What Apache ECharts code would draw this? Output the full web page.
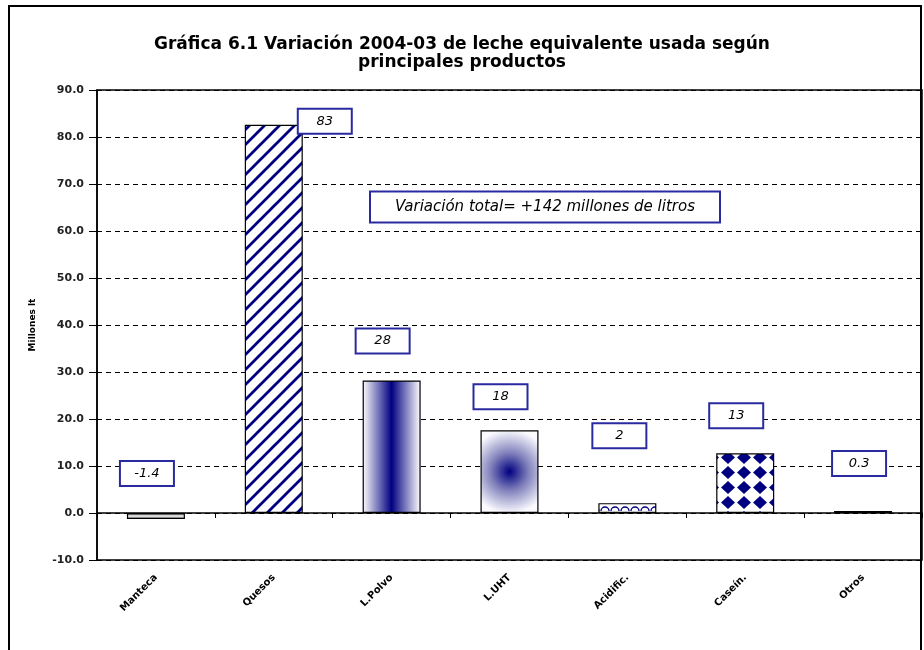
<!DOCTYPE html>
<html>
<head>
<meta charset="utf-8">
<script src="https://cdn.jsdelivr.net/npm/echarts@6/dist/echarts.min.js"></script>
<style>
  html, body { margin: 0; padding: 0; background: #fff; }
  #chart { width: 924px; height: 650px; }
</style>
</head>
<body>
<div id="chart"></div>
<script>
// data
var categories = ['Manteca', 'Quesos', 'L.Polvo', 'L.UHT', 'Acidific.', 'Caseín.', 'Otros']
var values = [-1.3, 82.6, 28.2, 17.6, 2.1, 12.7, 0.4]
var valueLabels = ['-1.4', '83', '28', '18', '2', '13', '0.3']
var yTicks = [-10, 0, 10, 20, 30, 40, 50, 60, 70, 80, 90]
var noteText = 'Variación total= +142 millones de litros'

var NAVY = '#000080'
var BOX_BLUE = '#2a2aa0'

// label boxes were moved by hand in the original, so each gets its own nudge
var labelOffsets = [[-9, -28], [51, 8], [-9, -28], [-9, -22], [-8, -56], [-9, -26], [-4, -36]]

function tile (w, h, draw) {
  var c = document.createElement('canvas')
  c.width = w
  c.height = h
  var ctx = c.getContext('2d')
  ctx.fillStyle = '#fff'
  ctx.fillRect(0, 0, w, h)
  draw(ctx)
  return { image: c, repeat: 'repeat' }
}

var stripes = tile(15, 15, function (ctx) {
  ctx.strokeStyle = NAVY
  ctx.lineWidth = 2.8
  ctx.beginPath()
  ctx.moveTo(-2, 17); ctx.lineTo(17, -2)
  ctx.moveTo(-10, 10); ctx.lineTo(10, -10)
  ctx.moveTo(5, 25); ctx.lineTo(25, 5)
  ctx.stroke()
})

var waves = tile(10, 8, function (ctx) {
  ctx.strokeStyle = NAVY
  ctx.lineWidth = 1.3
  ctx.beginPath()
  ctx.arc(5, 7, 4, Math.PI, 2 * Math.PI)
  ctx.stroke()
})

var diamonds = tile(16, 15, function (ctx) {
  ctx.fillStyle = NAVY
  ctx.beginPath()
  ctx.moveTo(8, 1); ctx.lineTo(15, 7.5); ctx.lineTo(8, 14); ctx.lineTo(1, 7.5)
  ctx.closePath()
  ctx.fill()
})

var barFills = [
  { type: 'linear', x: 0, y: 0, x2: 0, y2: 1, colorStops: [{ offset: 0, color: '#111' }, { offset: 0.5, color: '#fff' }, { offset: 1, color: '#111' }] },
  stripes,
  { type: 'linear', x: 0, y: 0, x2: 1, y2: 0, colorStops: [{ offset: 0, color: '#fff' }, { offset: 0.5, color: NAVY }, { offset: 1, color: '#fff' }] },
  { type: 'radial', x: 0.5, y: 0.5, r: 0.72, colorStops: [{ offset: 0, color: NAVY }, { offset: 0.45, color: '#8080bb' }, { offset: 1, color: '#fafaff' }] },
  waves,
  diamonds,
  '#000'
]

var chart = echarts.init(document.getElementById('chart'))
chart.setOption({
  backgroundColor: '#fff',
  animation: false,
  title: {
    text: 'Gráfica 6.1 Variación 2004-03 de leche equivalente usada según\nprincipales productos',
    left: 'center',
    top: 31,
    textStyle: {
      fontFamily: 'DejaVu Sans',
      fontSize: 17,
      fontWeight: 'bold',
      lineHeight: 18,
      color: '#000'
    }
  },
  grid: {
    left: 97,
    right: 2,
    top: 90,
    bottom: 90,
    show: true,
    borderColor: '#000',
    borderWidth: 1.5
  },
  xAxis: [{
    type: 'category',
    data: categories,
    axisLine: { show: false, onZero: false },
    axisTick: { show: false },
    axisLabel: {
      rotate: 45,
      margin: 16,
      fontFamily: 'DejaVu Sans',
      fontSize: 10,
      fontWeight: 'bold',
      color: '#000'
    },
    splitLine: { show: false }
  }, {
    // zero line with boundary ticks
    type: 'category',
    data: categories,
    position: 'bottom',
    axisLine: { show: true, onZero: true, lineStyle: { color: '#000', width: 1.5 } },
    axisTick: { show: true, length: 5, lineStyle: { color: '#000' } },
    axisLabel: { show: false },
    splitLine: { show: false }
  }],
  yAxis: {
    type: 'value',
    min: yTicks[0],
    max: yTicks[yTicks.length - 1],
    interval: 10,
    name: 'Millones lt',
    nameLocation: 'middle',
    nameGap: 60,
    nameTextStyle: {
      fontFamily: 'DejaVu Sans',
      fontSize: 9,
      fontWeight: 'bold',
      color: '#000'
    },
    axisLine: { show: true, lineStyle: { color: '#000', width: 1.5 } },
    axisTick: { show: true, length: 8, lineStyle: { color: '#000' } },
    axisLabel: {
      margin: 13,
      fontFamily: 'DejaVu Sans',
      fontSize: 11,
      fontWeight: 'bold',
      color: '#222',
      formatter: function (v) { return v.toFixed(1) }
    },
    splitLine: {
      show: true,
      lineStyle: { color: '#000', type: [5, 4], width: 1.2 }
    }
  },
  series: [{
    type: 'bar',
    xAxisIndex: 0,
    barWidth: 58,
    data: values.map(function (v, i) {
      return {
        value: v,
        itemStyle: { color: barFills[i] },
        label: { offset: labelOffsets[i] }
      }
    }),
    itemStyle: {
      borderColor: '#000',
      borderWidth: 1.2
    },
    label: {
      show: true,
      position: 'top',
      distance: 0,
      formatter: function (p) { return valueLabels[p.dataIndex] },
      fontFamily: 'DejaVu Sans',
      fontSize: 13,
      fontStyle: 'italic',
      color: '#000',
      backgroundColor: '#fff',
      borderColor: BOX_BLUE,
      borderWidth: 2,
      width: 48,
      height: 21,
      lineHeight: 21,
      align: 'center',
      padding: [1, 2]
    }
  }],
  graphic: [{
    type: 'rect',
    shape: { x: 9, y: 6, width: 912, height: 700 },
    style: { fill: 'none', stroke: '#000', lineWidth: 2 },
    silent: true
  }, {
    type: 'text',
    x: 545,
    y: 207,
    style: {
      text: noteText,
      align: 'center',
      verticalAlign: 'middle',
      fontFamily: 'DejaVu Sans',
      fontSize: 15,
      fontStyle: 'italic',
      fill: '#000',
      backgroundColor: '#fff',
      borderColor: BOX_BLUE,
      borderWidth: 2,
      padding: [7, 24]
    },
    z: 10
  }]
})
</script>
</body>
</html>
